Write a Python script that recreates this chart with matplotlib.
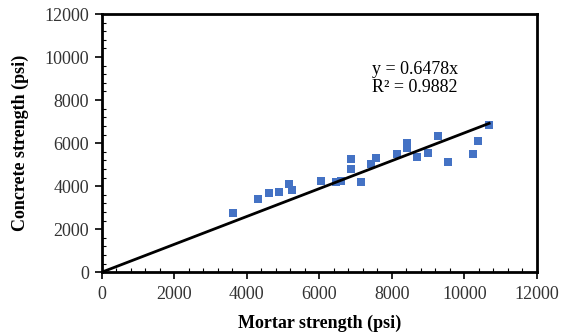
import matplotlib
matplotlib.use("Agg")
import matplotlib.pyplot as plt
import numpy as np
from matplotlib.ticker import MultipleLocator

mortar = [3636, 4326, 4612, 4897, 5164, 5246, 6037, 6450, 6598, 6874, 6874, 7150,
          7426, 7553, 8143, 8408, 8408, 8695, 8988, 9274, 9540, 10248, 10378, 10681]
concrete = [2740, 3405, 3683, 3730, 4087, 3822, 4240, 4208, 4255, 5248, 4798, 4180,
            5044, 5323, 5495, 6020, 5760, 5341, 5555, 6345, 5109, 5481, 6085, 6842]
slope = 0.6478
r2 = 0.9882

plt.rcParams['font.family'] = ['Liberation Serif', 'DejaVu Serif']

fig = plt.figure(figsize=(5.63, 3.36), dpi=100)
ax = fig.add_axes([0.1803, 0.1896, 0.9538 - 0.1803, 0.9583 - 0.1896])

ax.scatter(mortar, concrete, marker='s', s=36, color='#4472C4', zorder=3, linewidths=0)
xl = np.array([0, max(mortar)])
ax.plot(xl, slope * xl, color='black', lw=2, zorder=4)

ax.set_xlim(0, 12000)
ax.set_ylim(0, 12000)
ax.xaxis.set_major_locator(MultipleLocator(2000))
ax.yaxis.set_major_locator(MultipleLocator(2000))
ax.xaxis.set_minor_locator(MultipleLocator(400))
ax.yaxis.set_minor_locator(MultipleLocator(400))
ax.tick_params(which='major', direction='out', length=5, width=1.2, labelsize=13,
               colors='black', labelcolor='#333333')
ax.tick_params(which='minor', direction='in', length=3, width=0.8)
ax.tick_params(axis='x', pad=5)
ax.tick_params(axis='y', pad=4)
for s in ax.spines.values():
    s.set_linewidth(2)

ax.set_xlabel('Mortar strength (psi)', fontsize=13, fontweight='bold', va='center')
ax.set_ylabel('Concrete strength (psi)', fontsize=13, fontweight='bold', va='center')
ax.xaxis.set_label_coords(0.5, -0.196)
ax.yaxis.set_label_coords(-0.187, 0.5)

ax.text(372 / 563, 1 - 70 / 336, f'y = {slope}x', transform=fig.transFigure,
        fontsize=13, va='center', ha='left')
ax.text(372 / 563, 1 - 88 / 336, f'R² = {r2}', transform=fig.transFigure,
        fontsize=13, va='center', ha='left')

fig.savefig('out.png', dpi=100)
